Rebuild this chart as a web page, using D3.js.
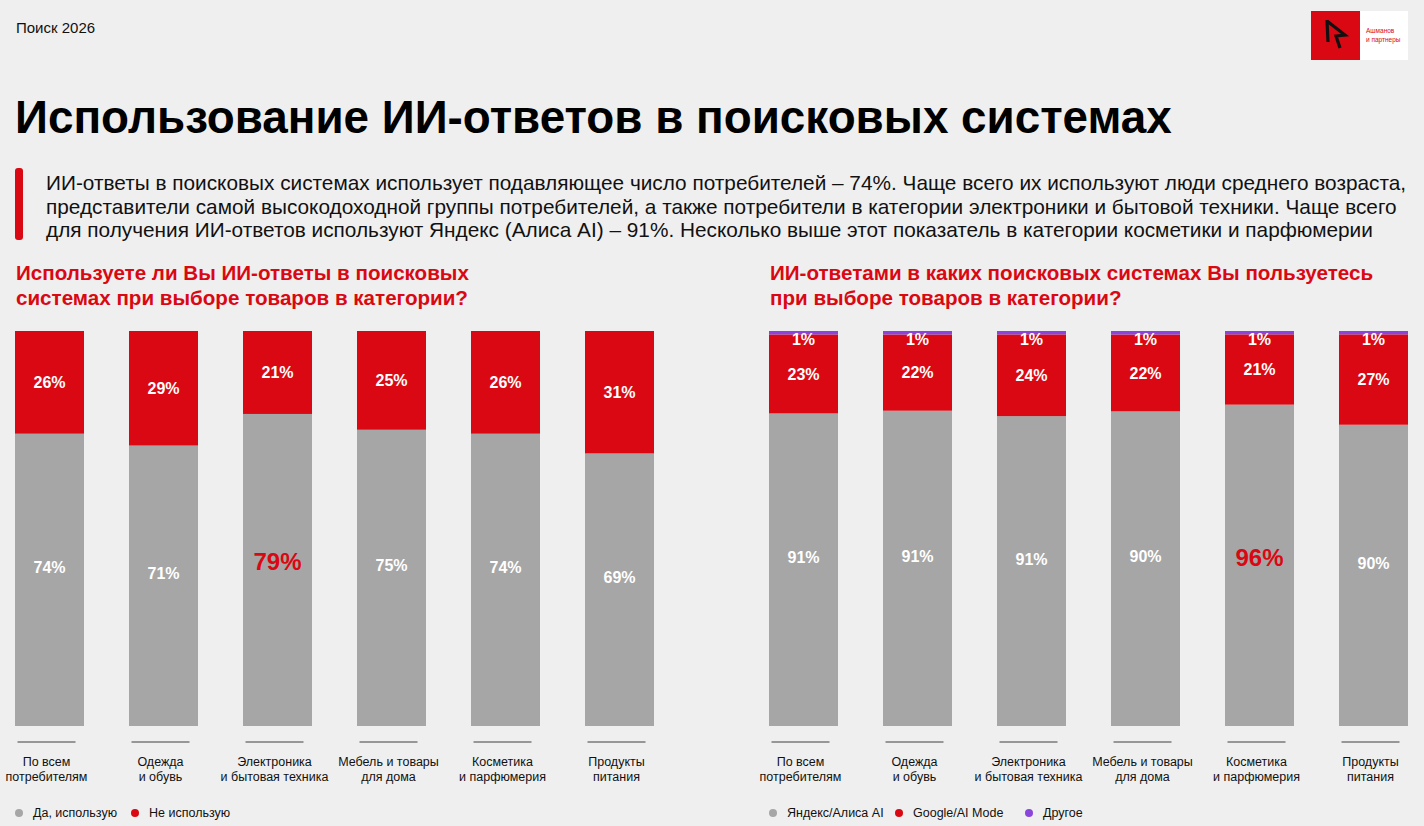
<!DOCTYPE html>
<html>
<head>
<meta charset="utf-8">
<script src="https://cdn.jsdelivr.net/npm/d3@7"></script>
<style>
  html, body { margin: 0; padding: 0; background: #efefef; }
  svg { display: block; font-family: "Liberation Sans", Arial, sans-serif; }
</style>
</head>
<body>
<div class="app"></div>
<script>
// Data
const categories = [
  ['По всем', 'потребителям'],
  ['Одежда', 'и обувь'],
  ['Электроника', 'и бытовая техника'],
  ['Мебель и товары', 'для дома'],
  ['Косметика', 'и парфюмерия'],
  ['Продукты', 'питания']
];
const usageYes = [74, 71, 79, 75, 74, 69];
const usageNo = [26, 29, 21, 25, 26, 31];

const engineYandex = [91, 91, 91, 90, 96, 90];
const engineGoogle = [23, 22, 24, 22, 21, 27];
const engineOther = [1, 1, 1, 1, 1, 1];

const legendLeft = ['Да, использую', 'Не использую'];
const legendRight = ['Яндекс/Алиса AI', 'Google/AI Mode', 'Другое'];

const RED = '#da0812';
const GRAY = '#a6a6a6';
const PURPLE = '#8a45dc';

const width = 1424;
const height = 826;

const svg = d3.select('.app')
  .append('svg')
  .attr('width', width)
  .attr('height', height)
  .attr('viewBox', [0, 0, width, height]);

svg.append('rect').attr('width', width).attr('height', height).attr('fill', '#efefef');

// Header
svg.append('text')
  .attr('x', 16).attr('y', 33)
  .attr('font-size', 15)
  .attr('fill', '#111')
  .text('Поиск 2026');

svg.append('text')
  .attr('x', 15).attr('y', 133)
  .attr('font-size', 45.8)
  .attr('font-weight', 'bold')
  .attr('fill', '#000')
  .text('Использование ИИ-ответов в поисковых системах');

svg.append('rect')
  .attr('x', 15).attr('y', 168)
  .attr('width', 8).attr('height', 72)
  .attr('rx', 3)
  .attr('fill', RED);

const para = [
  'ИИ-ответы в поисковых системах использует подавляющее число потребителей – 74%. Чаще всего их используют люди среднего возраста,',
  'представители самой высокодоходной группы потребителей, а также потребители в категории электроники и бытовой техники. Чаще всего',
  'для получения ИИ-ответов используют Яндекс (Алиса AI) – 91%. Несколько выше этот показатель в категории косметики и парфюмерии'
];
svg.append('g')
  .selectAll('text')
  .data(para)
  .join('text')
  .attr('x', 46)
  .attr('y', (d, i) => 190 + i * 23.5)
  .attr('font-size', 20.8)
  .attr('fill', '#111')
  .text(d => d);

// Logo
const logo = svg.append('g');
logo.append('rect').attr('x', 1311).attr('y', 11).attr('width', 97).attr('height', 49).attr('fill', '#fff');
logo.append('rect').attr('x', 1311).attr('y', 11).attr('width', 49).attr('height', 49).attr('fill', RED);
logo.append('path')
  .attr('d', 'M1327,20 L1328,42 M1327,21 L1345,35 L1336,36 L1340,48')
  .attr('fill', 'none')
  .attr('stroke', '#111')
  .attr('stroke-width', 3.2)
  .attr('stroke-linejoin', 'miter');
logo.append('g')
  .selectAll('text')
  .data(['Ашманов', 'и партнеры'])
  .join('text')
  .attr('x', 1366)
  .attr('y', (d, i) => 33 + i * 8.5)
  .attr('font-size', 6.5)
  .attr('fill', RED)
  .text(d => d);

// Chart builder
function drawChart({ x0, title, series, colors, legend, legendX, highlightSeries }) {
  const g = svg.append('g');

  g.append('g')
    .selectAll('text')
    .data(title)
    .join('text')
    .attr('x', x0 + 1)
    .attr('y', (d, i) => 280 + i * 25)
    .attr('font-size', 20.6)
    .attr('font-weight', 'bold')
    .attr('fill', RED)
    .text(d => d);

  const keys = series.map((s, i) => i);
  const rows = categories.map((c, ci) => {
    const row = { cat: c.join(' ') };
    series.forEach((s, si) => { row[si] = s[ci]; });
    return row;
  });

  const stack = d3.stack().keys(keys).offset(d3.stackOffsetExpand);
  const layers = stack(rows);

  const x = d3.scaleBand()
    .domain(rows.map(d => d.cat))
    .range([x0, x0 + 639])
    .paddingInner(45 / 114)
    .paddingOuter(0);

  const y = d3.scaleLinear().domain([0, 1]).range([726, 331]);

  const hlIndex = d3.maxIndex(series[highlightSeries]);

  layers.forEach((layer, li) => {
    g.append('g')
      .attr('fill', colors[li])
      .selectAll('rect')
      .data(layer)
      .join('rect')
      .attr('x', d => x(d.data.cat))
      .attr('y', d => y(d[1]))
      .attr('width', x.bandwidth())
      .attr('height', d => y(d[0]) - y(d[1]));

    g.append('g')
      .selectAll('text')
      .data(layer)
      .join('text')
      .attr('x', d => x(d.data.cat) + x.bandwidth() / 2)
      .attr('y', (d, i) => {
        if (li === 2) return y(d[1]) + 8;
        const mid = (y(d[0]) + y(d[1])) / 2;
        if (li === 0) return mid - (i === hlIndex ? 8 : 12);
        return mid;
      })
      .attr('dy', '0.35em')
      .attr('text-anchor', 'middle')
      .attr('font-weight', 'bold')
      .attr('font-size', (d, i) => li === highlightSeries && i === hlIndex ? 24 : 16)
      .attr('fill', (d, i) => li === highlightSeries && i === hlIndex ? RED : '#fff')
      .text((d, i) => series[li][i] + '%');
  });

  // Axis ticks and category labels
  const axis = g.append('g');
  axis.selectAll('line')
    .data(rows)
    .join('line')
    .attr('x1', d => x(d.cat) + x.bandwidth() / 2 - 32)
    .attr('x2', d => x(d.cat) + x.bandwidth() / 2 + 26)
    .attr('y1', 742)
    .attr('y2', 742)
    .attr('stroke', '#7a7a7a')
    .attr('stroke-width', 1.5);

  axis.selectAll('text')
    .data(categories)
    .join('text')
    .attr('x', (d, i) => x(rows[i].cat) + x.bandwidth() / 2 - 3)
    .attr('y', 766)
    .attr('text-anchor', 'middle')
    .attr('font-size', 12.5)
    .attr('fill', '#111')
    .selectAll('tspan')
    .data(d => d)
    .join('tspan')
    .attr('x', function () { return d3.select(this.parentNode).attr('x'); })
    .attr('dy', (d, i) => i === 0 ? 0 : 14.5)
    .text(d => d);

  // Legend
  const lg = g.append('g')
    .selectAll('g')
    .data(legend)
    .join('g')
    .attr('transform', (d, i) => `translate(${x0 + 4 + legendX[i]},813)`);
  lg.append('circle').attr('r', 4).attr('fill', (d, i) => colors[i]);
  lg.append('text')
    .attr('x', 14)
    .attr('dy', '0.35em')
    .attr('font-size', 12.5)
    .attr('fill', '#111')
    .text(d => d);
}

drawChart({
  x0: 15,
  title: ['Используете ли Вы ИИ-ответы в поисковых', 'системах при выборе товаров в категории?'],
  series: [usageYes, usageNo],
  colors: [GRAY, RED],
  legend: legendLeft,
  legendX: [0, 116],
  highlightSeries: 0
});

drawChart({
  x0: 769,
  title: ['ИИ-ответами в каких поисковых системах Вы пользуетесь', 'при выборе товаров в категории?'],
  series: [engineYandex, engineGoogle, engineOther],
  colors: [GRAY, RED, PURPLE],
  legend: legendRight,
  legendX: [0, 126, 256],
  highlightSeries: 0
});
</script>
</body>
</html>
